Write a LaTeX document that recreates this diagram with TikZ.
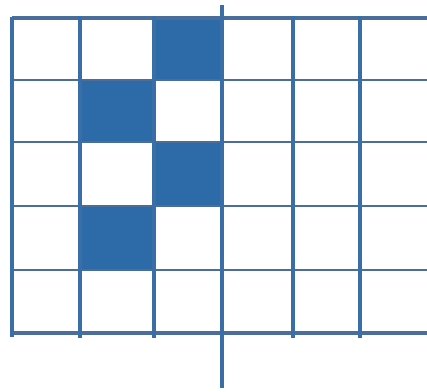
\documentclass[tikz,border=0pt]{standalone}
\definecolor{gridblue}{HTML}{3A6EA6}
\definecolor{cellblue}{HTML}{2D6AA8}
\definecolor{rowgrey}{HTML}{4A6E9C}

\begin{document}
\begin{tikzpicture}[x=0.02cm, y=0.02cm]
            \useasboundingbox (0,0) rectangle (427,392);

            % filled cells
            \fill[cellblue] (154,374) rectangle (222,312);
            \fill[cellblue] (80,312) rectangle (154,250);
            \fill[cellblue] (154,250) rectangle (222,186);
            \fill[cellblue] (80,186) rectangle (154,122);

            % row lines
            \draw[rowgrey, line width=1.8pt] (12,374) -- (427,374);
            \draw[rowgrey, line width=1.6pt] (12,312) -- (427,312);
            \draw[rowgrey, line width=1.6pt] (12,250) -- (427,250);
            \draw[rowgrey, line width=1.6pt] (12,186) -- (427,186);
            \draw[rowgrey, line width=1.6pt] (12,122) -- (427,122);
            \draw[rowgrey, line width=1.9pt] (12,59) -- (427,59);

            % column lines
            \draw[gridblue, line width=1.9pt] (80,376) -- (80,54);
            \draw[gridblue, line width=1.9pt] (154,376) -- (154,54);
            \draw[gridblue, line width=1.9pt] (293,376) -- (293,54);
            \draw[gridblue, line width=1.9pt] (360,376) -- (360,54);

            % axes
            \draw[gridblue, line width=2.3pt] (12,375) -- (12,55);
            \draw[gridblue, line width=2.8pt] (222,387) -- (222,4);
        \end{tikzpicture}
\end{document}
